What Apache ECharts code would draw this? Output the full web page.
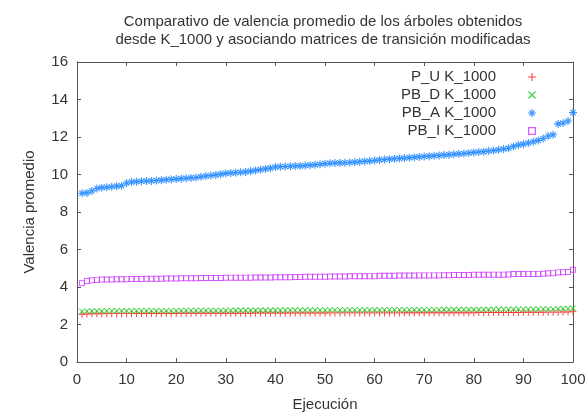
<!DOCTYPE html>
<html><head><meta charset="utf-8">
<script src="https://cdn.jsdelivr.net/npm/echarts@6/dist/echarts.min.js"></script>
<style>html,body{margin:0;padding:0;background:#fff}#c{width:587px;height:414px}</style>
</head><body><div id="c"></div>
<script>
var titleLines = ["Comparativo de valencia promedio de los árboles obtenidos", "desde K_1000 y asociando matrices de transición modificadas"];
var xTicks = [0,10,20,30,40,50,60,70,80,90,100];
var yTicks = [0,2,4,6,8,10,12,14,16];
var seriesNames = ["P_U K_1000", "PB_D K_1000", "PB_A K_1000", "PB_I K_1000"];
var runs = [1,2,3,4,5,6,7,8,9,10,11,12,13,14,15,16,17,18,19,20,21,22,23,24,25,26,27,28,29,30,31,32,33,34,35,36,37,38,39,40,41,42,43,44,45,46,47,48,49,50,51,52,53,54,55,56,57,58,59,60,61,62,63,64,65,66,67,68,69,70,71,72,73,74,75,76,77,78,79,80,81,82,83,84,85,86,87,88,89,90,91,92,93,94,95,96,97,98,99,100];
var pU = [2.55,2.56,2.57,2.57,2.57,2.58,2.58,2.58,2.58,2.58,2.58,2.59,2.59,2.59,2.59,2.59,2.59,2.59,2.59,2.59,2.60,2.60,2.60,2.60,2.60,2.60,2.60,2.60,2.60,2.60,2.60,2.60,2.60,2.60,2.60,2.61,2.61,2.61,2.61,2.61,2.61,2.61,2.61,2.61,2.61,2.61,2.61,2.61,2.61,2.61,2.62,2.62,2.62,2.62,2.62,2.62,2.62,2.62,2.62,2.62,2.62,2.62,2.62,2.62,2.62,2.63,2.63,2.63,2.63,2.63,2.63,2.63,2.63,2.63,2.63,2.63,2.63,2.63,2.63,2.63,2.64,2.64,2.64,2.64,2.64,2.64,2.64,2.64,2.64,2.65,2.65,2.65,2.65,2.65,2.66,2.66,2.66,2.67,2.67,2.70];
var pbD = [2.70,2.71,2.72,2.72,2.72,2.73,2.73,2.73,2.73,2.73,2.73,2.74,2.74,2.74,2.74,2.74,2.74,2.74,2.74,2.74,2.75,2.75,2.75,2.75,2.75,2.75,2.75,2.75,2.75,2.75,2.75,2.76,2.76,2.76,2.76,2.76,2.76,2.76,2.76,2.76,2.76,2.77,2.77,2.77,2.77,2.77,2.77,2.77,2.77,2.78,2.78,2.78,2.78,2.78,2.78,2.78,2.78,2.78,2.78,2.78,2.78,2.79,2.79,2.79,2.79,2.79,2.79,2.79,2.79,2.79,2.79,2.79,2.79,2.80,2.80,2.80,2.80,2.80,2.80,2.80,2.80,2.80,2.80,2.81,2.81,2.81,2.81,2.82,2.82,2.82,2.82,2.82,2.83,2.83,2.83,2.83,2.84,2.84,2.85,2.87];
var pbA = [9.00,9.02,9.12,9.25,9.30,9.32,9.35,9.38,9.40,9.55,9.60,9.62,9.64,9.65,9.66,9.68,9.70,9.72,9.74,9.76,9.78,9.80,9.82,9.84,9.88,9.92,9.95,9.98,10.02,10.06,10.08,10.10,10.12,10.14,10.18,10.22,10.26,10.30,10.34,10.40,10.42,10.43,10.44,10.45,10.46,10.48,10.50,10.52,10.55,10.58,10.60,10.61,10.62,10.63,10.64,10.66,10.68,10.70,10.72,10.75,10.78,10.80,10.82,10.84,10.86,10.88,10.90,10.92,10.94,10.96,10.98,11.00,11.02,11.04,11.06,11.08,11.10,11.12,11.15,11.18,11.20,11.22,11.25,11.28,11.32,11.36,11.40,11.50,11.58,11.62,11.68,11.75,11.82,11.92,12.05,12.12,12.70,12.75,12.85,13.30];
var pbI = [4.20,4.32,4.36,4.38,4.40,4.40,4.40,4.41,4.41,4.42,4.43,4.43,4.43,4.44,4.44,4.44,4.44,4.45,4.45,4.45,4.47,4.47,4.47,4.47,4.48,4.48,4.48,4.48,4.48,4.49,4.50,4.50,4.50,4.50,4.50,4.51,4.51,4.51,4.51,4.52,4.52,4.52,4.52,4.53,4.53,4.55,4.55,4.55,4.55,4.55,4.56,4.56,4.56,4.56,4.57,4.57,4.57,4.57,4.58,4.58,4.60,4.60,4.60,4.60,4.61,4.61,4.61,4.61,4.62,4.62,4.62,4.62,4.62,4.63,4.63,4.64,4.64,4.64,4.64,4.65,4.65,4.65,4.65,4.66,4.66,4.66,4.67,4.69,4.69,4.69,4.70,4.70,4.70,4.71,4.73,4.74,4.78,4.79,4.80,4.92];

function pairs(v){ return runs.map(function(x,i){ return [x, v[i]]; }); }
var plusPath = 'path://M4.3,0H5.7V10H4.3Z M0,4.3H10V5.7H0Z';
var xPath = 'path://M0.5,1.5L1.5,0.5L9.5,8.5L8.5,9.5Z M8.5,0.5L9.5,1.5L1.5,9.5L0.5,8.5Z';
var starPath = 'path://M4.3,0H5.7V10H4.3Z M0,4.3H10V5.7H0Z M1.2,2.1L2.1,1.2L8.8,7.9L7.9,8.8Z M7.9,1.2L8.8,2.1L2.1,8.8L1.2,7.9Z';
var squarePath = 'path://M0,0H10V10H0Z M1.6,1.6V8.4H8.4V1.6Z';
var F = 'Liberation Sans, Arial, sans-serif';
var FS = 15;
var txt = '#333';
var axisCol = '#555';
var chart = echarts.init(document.getElementById('c'), null, {renderer:'canvas'});
chart.setOption({
  animation:false,
  backgroundColor:'#fff',
  title:{text: titleLines.join('\n'), left:318, top:8, textAlign:'center',
    textStyle:{fontFamily:F, fontSize:FS, fontWeight:'normal', color:txt, lineHeight:18}},
  legend:{orient:'vertical', right:46, top:63, align:'right', itemGap:0, itemWidth:8, itemHeight:8,
    textStyle:{fontFamily:F, fontSize:FS, color:txt, lineHeight:18, padding:[0,27,0,0]},
    data: [{name:seriesNames[0], icon:plusPath}, {name:seriesNames[1], icon:xPath},
           {name:seriesNames[2], icon:starPath}, {name:seriesNames[3], icon:squarePath}]},
  grid:{left:77, right:14, top:62, bottom:52, containLabel:false, outerBoundsMode:'none'},
  xAxis:[{type:'value', min:0, max:100, interval:10, position:'bottom',
      name:'Ejecución', nameLocation:'middle', nameGap:35,
      nameTextStyle:{fontFamily:F, fontSize:FS, color:txt},
      axisLine:{show:true, onZero:false, lineStyle:{color:axisCol, width:1}},
      axisTick:{show:true, inside:true, length:4, lineStyle:{color:axisCol}},
      axisLabel:{fontFamily:F, fontSize:FS, color:txt, margin:10},
      splitLine:{show:false}},
    {type:'value', min:0, max:100, interval:10, position:'top',
      axisLine:{show:true, onZero:false, lineStyle:{color:axisCol, width:1}},
      axisTick:{show:true, inside:true, length:4, lineStyle:{color:axisCol}},
      axisLabel:{show:false}, splitLine:{show:false}}],
  yAxis:[{type:'value', min:0, max:16, interval:2, position:'left',
      name:'Valencia promedio', nameLocation:'middle', nameGap:40, nameRotate:90,
      nameTextStyle:{fontFamily:F, fontSize:FS, color:txt},
      axisLine:{show:true, onZero:false, lineStyle:{color:axisCol, width:1}},
      axisTick:{show:true, inside:true, length:4, lineStyle:{color:axisCol}},
      axisLabel:{fontFamily:F, fontSize:FS, color:txt, margin:9},
      splitLine:{show:false}},
    {type:'value', min:0, max:16, interval:2, position:'right',
      axisLine:{show:true, onZero:false, lineStyle:{color:axisCol, width:1}},
      axisTick:{show:true, inside:true, length:4, lineStyle:{color:axisCol}},
      axisLabel:{show:false}, splitLine:{show:false}}],
  series:[
    {name:seriesNames[0], type:'scatter', data:pairs(pU), symbol:plusPath, symbolSize:7,
      itemStyle:{color:'#ff2020', opacity:0.85}},
    {name:seriesNames[1], type:'scatter', data:pairs(pbD), symbol:xPath, symbolSize:6,
      itemStyle:{color:'#22cc22', opacity:0.85}},
    {name:seriesNames[2], type:'scatter', data:pairs(pbA), symbol:starPath, symbolSize:8,
      itemStyle:{color:'#2288ff', opacity:0.9}},
    {name:seriesNames[3], type:'scatter', data:pairs(pbI), symbol:squarePath, symbolSize:6,
      itemStyle:{color:'#cc33ff'}}
  ]
});
</script></body></html>
